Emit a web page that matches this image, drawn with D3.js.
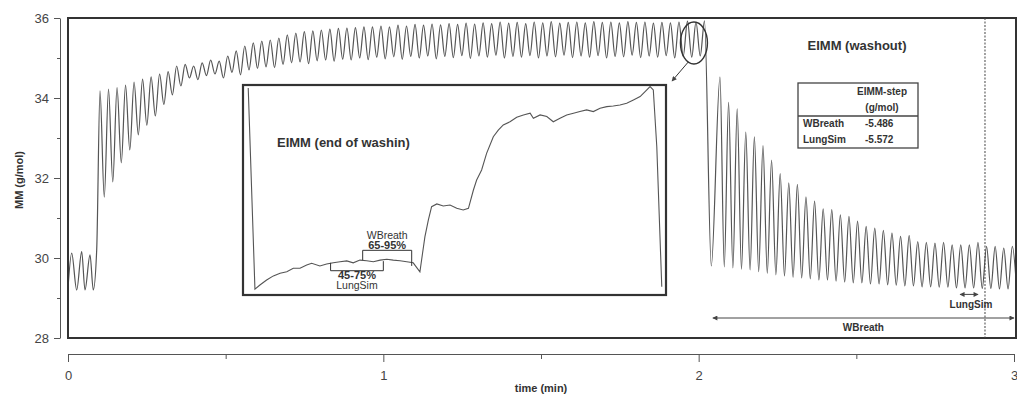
<!DOCTYPE html>
<html>
<head>
<meta charset="utf-8">
<script src="https://cdn.jsdelivr.net/npm/d3@7"></script>
<style>
  body { margin: 0; background: #fff; }
  svg { display: block; font-family: "Liberation Sans", Arial, sans-serif; }
</style>
</head>
<body>
<svg id="chart" width="1017" height="397"></svg>
<script>
// ---- Room-air breaths before the switch to the test gas ----
const preTimes  = [0.000, 0.0117, 0.0276, 0.0434, 0.0539, 0.0698, 0.0802, 0.0910];
const preValues = [29.25, 30.12, 29.20, 30.16, 29.20, 30.08, 29.20, 30.20];

// ---- Washin: end-expiratory peak and inspiratory trough of each breath (g/mol) ----
const washinStart = 0.1015;   // min
const washinPeriod = 0.0270;  // min per breath
const washinPeaks = [
  34.18, 34.22, 34.26, 34.32, 34.40, 34.47, 34.53, 34.60, 34.66, 34.80,
  34.84, 34.80, 34.88, 34.95, 34.92, 35.05, 35.18, 35.30, 35.38, 35.42,
  35.45, 35.50, 35.58, 35.62, 35.66, 35.68, 35.70, 35.72, 35.74, 35.75,
  35.76, 35.78, 35.78, 35.80, 35.78, 35.82, 35.80, 35.84, 35.82, 35.85,
  35.83, 35.86, 35.84, 35.87, 35.85, 35.88, 35.86, 35.90, 35.87, 35.89,
  35.86, 35.90, 35.88, 35.91, 35.87, 35.89, 35.90, 35.88, 35.91, 35.89,
  35.90, 35.88, 35.91, 35.89, 35.90, 35.87, 35.89, 35.88, 35.90, 35.92,
  35.90, 35.93
];
const washinTroughs = [
  31.52, 31.90, 32.38, 32.70, 33.08, 33.32, 33.55, 33.84, 34.08, 34.30,
  34.50, 34.46, 34.56, 34.60, 34.50, 34.64, 34.58, 34.70, 34.74, 34.78,
  34.76, 34.84, 34.88, 34.90, 34.86, 34.93, 34.95, 34.92, 34.97, 34.95,
  35.00, 34.96, 35.02, 34.98, 35.03, 34.97, 35.04, 35.00, 35.05, 34.98,
  35.04, 35.01, 35.06, 34.99, 35.05, 35.02, 35.07, 35.00, 35.04, 35.02,
  35.06, 35.00, 35.05, 35.03, 35.07, 35.01, 35.05, 35.02, 35.06, 35.00,
  35.04, 35.03, 35.07, 35.01, 35.05, 35.02, 35.06, 35.00, 35.04, 35.02,
  35.05
];

// ---- Washout ----
const washoutDropTime = 2.040;
const washoutDropValue = 29.80;
const washoutStart = 2.0676;
const washoutPeriod = 0.02727;
const washoutPeaks = [
  34.52, 33.89, 33.73, 33.15, 33.03, 32.81, 32.45, 32.11, 31.88, 31.84,
  31.53, 31.42, 31.23, 31.21, 31.08, 31.04, 30.92, 30.79, 30.75, 30.69,
  30.62, 30.54, 30.56, 30.41, 30.39, 30.37, 30.39, 30.33, 30.33, 30.33,
  30.39, 30.29, 30.29, 30.25, 30.29
];
const washoutTroughs = [
  29.78, 29.75, 29.72, 29.70, 29.66, 29.62, 29.58, 29.55, 29.52, 29.50,
  29.48, 29.45, 29.45, 29.42, 29.40, 29.38, 29.38, 29.35, 29.35, 29.33,
  29.32, 29.30, 29.30, 29.28, 29.28, 29.27, 29.27, 29.25, 29.25, 29.25,
  29.24, 29.24, 29.23, 29.23, 29.22
];

// ---- Inset: single end-of-washin expiration (time in s, MM in g/mol) ----
const insetTimes = [
  0.021, 0.048, 0.068, 0.095, 0.122, 0.149, 0.176, 0.202, 0.229, 0.256,
  0.276, 0.309, 0.336, 0.363, 0.390, 0.417, 0.443, 0.470, 0.497, 0.524,
  0.551, 0.578, 0.604, 0.631, 0.658, 0.684, 0.711, 0.731, 0.745, 0.758,
  0.779, 0.805, 0.832, 0.859, 0.885, 0.906, 0.926, 0.939, 0.959, 0.979,
  1.006, 1.026, 1.046, 1.073, 1.100, 1.127, 1.154, 1.167, 1.194, 1.221,
  1.247, 1.274, 1.301, 1.328, 1.354, 1.381, 1.408, 1.435, 1.462, 1.488,
  1.515, 1.542, 1.569, 1.596, 1.616, 1.636, 1.649, 1.663, 1.683
];
const insetValues = [
  35.99, 35.023, 35.043, 35.067, 35.087, 35.100, 35.107, 35.124, 35.124, 35.139,
  35.148, 35.135, 35.144, 35.150, 35.155, 35.159, 35.150, 35.163, 35.160, 35.155,
  35.163, 35.167, 35.163, 35.160, 35.155, 35.150, 35.107, 35.275, 35.356, 35.420,
  35.433, 35.423, 35.428, 35.412, 35.404, 35.412, 35.500, 35.548, 35.596, 35.676,
  35.756, 35.788, 35.813, 35.828, 35.850, 35.861, 35.869, 35.845, 35.861, 35.853,
  35.828, 35.845, 35.861, 35.869, 35.877, 35.885, 35.877, 35.893, 35.901, 35.904,
  35.909, 35.917, 35.933, 35.949, 35.973, 35.997, 35.981, 35.708, 35.035
];
// plateau ranges used for the EIMM estimate (s)
const wbreathRange = [0.481, 0.678];
const lungsimRange = [0.352, 0.564];

// ---- Table of EIMM steps ----
const tableRows = ["WBreath", "LungSim"];
const tableValues = ["-5.486", "-5.572"];

// ---- Axes ----
const yMajorTicks = [28, 30, 32, 34, 36];
const yMinorTicks = [29, 31, 33, 35];
const xMajorTicks = [0, 1, 2, 3];
const xMinorTicks = [0.5, 1.5, 2.5];

// ---- Annotation positions in data units ----
const circleAt = [1.985, 35.375];
const lungsimMarkTime = 2.908;
const wbreathSpan = [2.045, 3.0];
const lungsimSpan = [2.829, 2.886];

const svg = d3.select("#chart");
const x = d3.scaleLinear().domain([0, 3]).range([68, 1014]);
const y = d3.scaleLinear().domain([28, 36]).range([338, 18]);

const ink = "#333";
const traceColor = "#555";

// arrow markers
const defs = svg.append("defs");
function marker(id, orient) {
  defs.append("marker")
    .attr("id", id).attr("viewBox", "0 0 10 10")
    .attr("refX", 9).attr("refY", 5)
    .attr("markerWidth", 7).attr("markerHeight", 5)
    .attr("orient", orient)
    .append("path").attr("d", "M0,0L10,5L0,10Z").attr("fill", "#444");
}
marker("arrEnd", "auto");
marker("arrStart", "auto-start-reverse");
defs.append("clipPath").attr("id", "plotClip")
  .append("rect").attr("x", 68).attr("y", 18).attr("width", 948).attr("height", 320);

// ---- build the breath-by-breath trace ----
const signal = [];
preTimes.forEach((t, i) => signal.push([t, preValues[i]]));
washinPeaks.forEach((v, i) => {
  const t = washinStart + i * washinPeriod;
  signal.push([t, v]);
  if (i < washinTroughs.length) signal.push([t + washinPeriod / 2, washinTroughs[i]]);
});
signal.push([washoutDropTime, washoutDropValue]);
washoutPeaks.forEach((v, i) => {
  const t = washoutStart + i * washoutPeriod;
  signal.push([t, v]);
  signal.push([t + washoutPeriod / 2, washoutTroughs[i]]);
});

const line = d3.line().x(d => x(d[0])).y(d => y(d[1])).curve(d3.curveMonotoneX);
svg.append("path")
  .datum(signal)
  .attr("clip-path", "url(#plotClip)")
  .attr("d", line)
  .attr("fill", "none")
  .attr("stroke", traceColor)
  .attr("stroke-width", 1.2)
  .attr("stroke-linejoin", "round");

// plot frame
svg.append("rect")
  .attr("x", 68).attr("y", 18).attr("width", 948).attr("height", 320)
  .attr("fill", "none").attr("stroke", ink).attr("stroke-width", 2);

// ---- y axis (offset to the left of the frame) ----
const yAxisG = svg.append("g").attr("transform", "translate(60,0)");
yAxisG.call(d3.axisLeft(y).tickValues(yMajorTicks).tickFormat(d3.format("d"))
  .tickSize(6).tickSizeOuter(0).tickPadding(5));
yAxisG.append("g").call(d3.axisLeft(y).tickValues(yMinorTicks).tickSize(3).tickFormat(""))
  .select(".domain").remove();
yAxisG.selectAll("path, line").attr("stroke", "#555");
yAxisG.selectAll("text").attr("font-size", 13).attr("fill", "#444")
  .attr("font-family", "Liberation Sans, Arial, sans-serif");

// ---- x axis (below the frame) ----
const xAxisG = svg.append("g").attr("transform", "translate(0,354)");
xAxisG.call(d3.axisBottom(x).tickValues(xMajorTicks).tickFormat(d3.format("d"))
  .tickSize(8).tickSizeOuter(0).tickPadding(9));
xAxisG.append("g").call(d3.axisBottom(x).tickValues(xMinorTicks).tickSize(5).tickFormat(""))
  .select(".domain").remove();
xAxisG.selectAll("path, line").attr("stroke", "#555");
xAxisG.selectAll("text").attr("font-size", 13).attr("fill", "#444")
  .attr("font-family", "Liberation Sans, Arial, sans-serif");

// axis titles
svg.append("text")
  .attr("transform", "translate(23,180) rotate(-90)")
  .attr("text-anchor", "middle")
  .attr("font-size", 11).attr("font-weight", "bold").attr("fill", "#333")
  .text("MM (g/mol)");
svg.append("text")
  .attr("x", x(1.5)).attr("y", 392)
  .attr("text-anchor", "middle")
  .attr("font-size", 11).attr("font-weight", "bold").attr("fill", "#333")
  .text("time (min)");

// ---- circled breath and connector to inset ----
const cx = x(circleAt[0]), cy = y(circleAt[1]);
svg.append("ellipse")
  .attr("cx", cx).attr("cy", cy).attr("rx", 13.5).attr("ry", 21)
  .attr("fill", "none").attr("stroke", "#333").attr("stroke-width", 1.4);

// ---- inset ----
const ix = d3.scaleLinear().domain([0, 1.7]).range([243, 666]);
const iy = d3.scaleLinear().domain([35, 36]).range([294, 86]);

const theta = 115 * Math.PI / 180;
svg.append("line")
  .attr("x1", cx + 13.5 * Math.cos(theta)).attr("y1", cy + 21 * Math.sin(theta))
  .attr("x2", ix.range()[1] + 6).attr("y2", iy.range()[1] - 5)
  .attr("stroke", "#333").attr("stroke-width", 1)
  .attr("marker-end", "url(#arrEnd)");

svg.append("rect")
  .attr("x", 243).attr("y", 85).attr("width", 423).attr("height", 210)
  .attr("fill", "#fff").attr("stroke", ink).attr("stroke-width", 2.2);

const insetLine = d3.line().x((d, i) => ix(insetTimes[i])).y(d => iy(d));
svg.append("path")
  .datum(insetValues)
  .attr("d", insetLine)
  .attr("fill", "none").attr("stroke", traceColor).attr("stroke-width", 1.1);

svg.append("text")
  .attr("x", 277).attr("y", 147)
  .attr("font-size", 13).attr("font-weight", "bold").attr("fill", "#333")
  .text("EIMM (end of washin)");

// WBreath evaluation window bracket (above the plateau)
const wbY = iy(35.21);
svg.append("path")
  .attr("d", `M${ix(wbreathRange[0])},${iy(35.163)}V${wbY}H${ix(wbreathRange[1])}V${iy(35.135)}`)
  .attr("fill", "none").attr("stroke", "#333").attr("stroke-width", 1);
svg.append("text").attr("x", ix(d3.mean(wbreathRange))).attr("y", 238.5)
  .attr("text-anchor", "middle").attr("font-size", 10.5).attr("fill", "#333").text("WBreath");
svg.append("text").attr("x", ix(d3.mean(wbreathRange))).attr("y", 249)
  .attr("text-anchor", "middle").attr("font-size", 11).attr("font-weight", "bold").attr("fill", "#333").text("65-95%");

// LungSim evaluation window bracket (below the plateau)
const lsY = iy(35.112);
svg.append("path")
  .attr("d", `M${ix(lungsimRange[0])},${iy(35.15)}V${lsY}H${ix(lungsimRange[1])}V${iy(35.158)}`)
  .attr("fill", "none").attr("stroke", "#333").attr("stroke-width", 1);
svg.append("text").attr("x", ix(d3.mean(lungsimRange))).attr("y", 279)
  .attr("text-anchor", "middle").attr("font-size", 11).attr("font-weight", "bold").attr("fill", "#333").text("45-75%");
svg.append("text").attr("x", ix(d3.mean(lungsimRange))).attr("y", 289)
  .attr("text-anchor", "middle").attr("font-size", 10.5).attr("fill", "#333").text("LungSim");

// ---- washout annotations ----
svg.append("text")
  .attr("x", 857).attr("y", 50)
  .attr("text-anchor", "middle")
  .attr("font-size", 13).attr("font-weight", "bold").attr("fill", "#333")
  .text("EIMM (washout)");

// table
const tb = { x: 798, y: 83, w: 120, h: 65 };
svg.append("rect").attr("x", tb.x).attr("y", tb.y).attr("width", tb.w).attr("height", tb.h)
  .attr("fill", "#fff").attr("stroke", "#444").attr("stroke-width", 1.3);
svg.append("line").attr("x1", tb.x).attr("x2", tb.x + tb.w).attr("y1", 116).attr("y2", 116)
  .attr("stroke", "#444").attr("stroke-width", 1.3);
svg.append("text").attr("x", 882).attr("y", 95).attr("text-anchor", "middle")
  .attr("font-size", 10).attr("font-weight", "bold").attr("fill", "#333").text("EIMM-step");
svg.append("text").attr("x", 882).attr("y", 111).attr("text-anchor", "middle")
  .attr("font-size", 10).attr("font-weight", "bold").attr("fill", "#333").text("(g/mol)");
tableRows.forEach((r, i) => {
  svg.append("text").attr("x", 803).attr("y", 127 + i * 16)
    .attr("font-size", 10).attr("font-weight", "bold").attr("fill", "#333").text(r);
  svg.append("text").attr("x", 865).attr("y", 127 + i * 16)
    .attr("font-size", 10).attr("font-weight", "bold").attr("fill", "#333").text(tableValues[i]);
});

// dotted marker where the LungSim washout is evaluated
svg.append("line")
  .attr("x1", x(lungsimMarkTime)).attr("x2", x(lungsimMarkTime))
  .attr("y1", y(36)).attr("y2", y(28))
  .attr("stroke", "#444").attr("stroke-width", 1).attr("stroke-dasharray", "2,1.5");

// span arrows
svg.append("line")
  .attr("x1", x(wbreathSpan[0])).attr("x2", x(wbreathSpan[1]))
  .attr("y1", y(28.5)).attr("y2", y(28.5))
  .attr("stroke", "#444").attr("stroke-width", 1)
  .attr("marker-start", "url(#arrStart)").attr("marker-end", "url(#arrEnd)");
svg.append("text").attr("x", x(d3.mean(wbreathSpan))).attr("y", 330.5)
  .attr("text-anchor", "middle").attr("font-size", 10).attr("font-weight", "bold").attr("fill", "#333")
  .text("WBreath");

svg.append("line")
  .attr("x1", x(lungsimSpan[0])).attr("x2", x(lungsimSpan[1]))
  .attr("y1", y(29.09)).attr("y2", y(29.09))
  .attr("stroke", "#444").attr("stroke-width", 1)
  .attr("marker-start", "url(#arrStart)").attr("marker-end", "url(#arrEnd)");
svg.append("text").attr("x", 971).attr("y", 308)
  .attr("text-anchor", "middle").attr("font-size", 10).attr("font-weight", "bold").attr("fill", "#333")
  .text("LungSim");
</script>
</body>
</html>
